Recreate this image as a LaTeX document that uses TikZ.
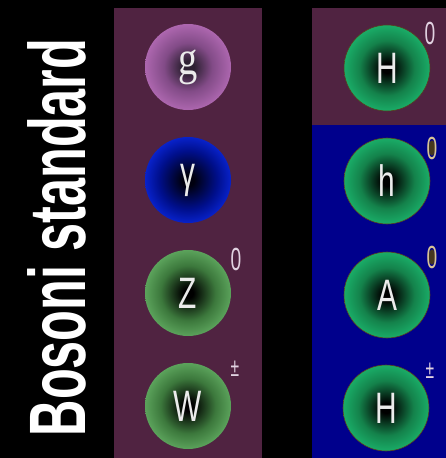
\documentclass[tikz,border=0pt]{standalone}
\usepackage{fontspec}
\usepackage{graphicx}
\newfontfamily\labfont{Liberation Sans}
\newfontfamily\glufont{Liberation Serif}
\newfontfamily\titlefont{Liberation Sans}
\definecolor{panelpurple}{RGB}{80,35,65}
\definecolor{panelblue}{RGB}{0,0,140}
\definecolor{labwhite}{RGB}{235,235,235}
\definecolor{supcol}{RGB}{225,210,225}
\definecolor{gcen}{RGB}{45,32,50}
\definecolor{gmid}{RGB}{130,75,135}
\definecolor{gedge}{RGB}{200,120,200}
\definecolor{grim}{RGB}{215,145,215}
\definecolor{acen}{RGB}{0,0,15}
\definecolor{amid}{RGB}{0,15,140}
\definecolor{aedge}{RGB}{15,50,255}
\definecolor{arim}{RGB}{40,80,255}
\definecolor{zcen}{RGB}{0,0,0}
\definecolor{zmid}{RGB}{60,120,60}
\definecolor{zedge}{RGB}{115,195,115}
\definecolor{zrim}{RGB}{140,215,140}
\definecolor{hcen}{RGB}{0,0,0}
\definecolor{hmid}{RGB}{20,130,75}
\definecolor{hedge}{RGB}{30,205,125}
\definecolor{hrim}{RGB}{60,230,150}
\definecolor{hline}{RGB}{90,60,30}
\definecolor{zerofill}{RGB}{70,55,30}
\definecolor{zeroline}{RGB}{215,195,150}
\pgfdeclareradialshading{gluonsh}{\pgfpoint{0bp}{0bp}}{color(0bp)=(gcen); color(3.5bp)=(gcen); color(14bp)=(gmid); color(32bp)=(gedge); color(35bp)=(grim); color(50bp)=(grim)}
\pgfdeclareradialshading{photonsh}{\pgfpoint{0bp}{0bp}}{color(0bp)=(acen); color(3.5bp)=(acen); color(17bp)=(amid); color(32bp)=(aedge); color(35bp)=(arim); color(50bp)=(arim)}
\pgfdeclareradialshading{zwsh}{\pgfpoint{0bp}{0bp}}{color(0bp)=(zcen); color(3bp)=(zcen); color(16bp)=(zmid); color(32bp)=(zedge); color(35bp)=(zrim); color(50bp)=(zrim)}
\pgfdeclareradialshading{higgssh}{\pgfpoint{0bp}{0bp}}{color(0bp)=(hcen); color(3bp)=(hcen); color(16bp)=(hmid); color(32bp)=(hedge); color(35bp)=(hrim); color(50bp)=(hrim)}
\tikzset{
  ball/.style={circle, minimum size=86pt, inner sep=0pt, text=labwhite,
    font=\labfont\fontsize{44}{44}\selectfont},
  supl/.style={text=supcol, inner sep=0pt, font=\labfont\fontsize{32}{32}\selectfont},
  supm/.style={text=supcol, inner sep=0pt, font=\labfont\fontsize{26}{26}\selectfont},
}
\newcommand{\nar}[1]{\scalebox{0.68}[1]{#1}}
\newcommand{\nsup}[1]{\scalebox{0.6}[1]{#1}}
\begin{document}
\begin{tikzpicture}[x=1pt,y=-1pt]
\useasboundingbox[fill=black] (0,0) rectangle (446,458);
% panels
\fill[panelpurple] (114,8) rectangle (262,458);
\fill[panelpurple] (312,8) rectangle (446,125);
\fill[panelblue] (312,125) rectangle (446,458);
% title
\node[text=white, rotate=90, inner sep=0pt] (title) at (56.5,237.5)
  {\scalebox{0.63}[1]{\titlefont\bfseries\fontsize{80}{80}\selectfont Bosoni standard}};
% standard bosons
\node[ball, shading=gluonsh] (g) at (188,67) {\glufont\fontsize{48}{48}\selectfont\scalebox{0.8}[1]{g}};
\node[ball, shading=photonsh] (gam) at (188,180) {\nar{γ}};
\node[ball, shading=zwsh] (Z) at (188,293) {\nar{Z}};
\node[ball, shading=zwsh] (W) at (188,406) {\nar{W}};
\node[supl] (Zs) at (236,259) {\nsup{0}};
\node[supm] (Ws) at (235,369) {\nsup{±}};
% higgs bosons
\node[ball, shading=higgssh, draw=hline, line width=0.6pt] (H0) at (387,68) {\nar{H}};
\node[ball, shading=higgssh, draw=hline, line width=0.6pt] (h0) at (387,181) {\nar{h}};
\node[ball, shading=higgssh, draw=hline, line width=0.6pt] (A0) at (387,295) {\nar{A}};
\node[ball, shading=higgssh, draw=hline, line width=0.6pt] (Hpm) at (386,408) {\nar{H}};
\node[supl] (H0s) at (430,33) {\nsup{0}};
\fill[zerofill] (432,148) ellipse (3.2pt and 7.5pt);
\node[supl, text=zeroline] (h0s) at (432,148) {\nsup{0}};
\fill[zerofill] (432,257) ellipse (3.2pt and 7.5pt);
\node[supl, text=zeroline] (A0s) at (432,257) {\nsup{0}};
\node[supm] (Hpms) at (430,371) {\nsup{±}};
\end{tikzpicture}
\end{document}
